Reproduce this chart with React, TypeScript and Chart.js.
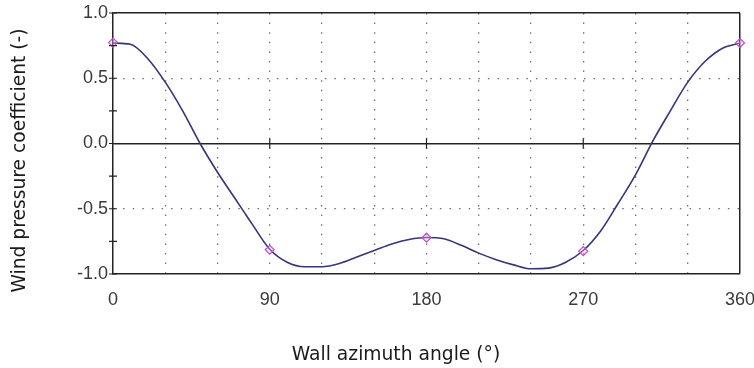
import React, { useEffect, useRef } from "react";
import { Chart, registerables } from "chart.js";

Chart.register(...registerables);

// Wall azimuth angle (°) and wind pressure coefficient
const curveAngles = [0, 10, 20, 30, 40, 50, 60, 70, 75, 80, 90, 100, 110, 120, 130, 140, 150, 160, 170, 180, 190, 200, 210, 220, 230, 240, 250, 260, 270, 280, 290, 300, 310, 320, 330, 340, 350, 360];
const curveValues = [0.77, 0.76, 0.65, 0.47, 0.25, 0.0, -0.22, -0.42, -0.52, -0.62, -0.81, -0.91, -0.945, -0.945, -0.92, -0.87, -0.82, -0.77, -0.735, -0.72, -0.73, -0.78, -0.84, -0.89, -0.93, -0.96, -0.955, -0.91, -0.82, -0.67, -0.46, -0.24, 0.02, 0.25, 0.47, 0.63, 0.73, 0.77];

// Marked input points
const markerAngles = [0, 90, 180, 270, 360];
const markerValues = [0.773, -0.814, -0.722, -0.825, 0.77];

// Axis ticks
const xLabelValues = [0, 90, 180, 270, 360];
const xLabelTexts = ["0", "90", "180", "270", "360"];
const yLabelValues = [-1, -0.5, 0, 0.5, 1];
const yLabelTexts = ["-1.0", "-0.5", "0.0", "0.5", "1.0"];

const xTitle = "Wall azimuth angle (°)";
const yTitle = "Wind pressure coefficient (-)";

const decorPlugin = {
  id: "decor",
  afterDraw(chart: any) {
    const { ctx, chartArea: a, scales } = chart;
    const x = scales.x;
    const y = scales.y;
    ctx.save();
    ctx.strokeStyle = "#222";
    ctx.lineWidth = 1.2;
    ctx.setLineDash([]);
    ctx.beginPath();
    y.ticks.forEach((t: any) => {
      const py = y.getPixelForValue(t.value);
      ctx.moveTo(a.left - 4, py);
      ctx.lineTo(a.left + 4, py);
    });
    const y0 = y.getPixelForValue(0);
    x.ticks.forEach((t: any) => {
      if (t.value % 90 === 0 && t.value > 0 && t.value < 360) {
        const px = x.getPixelForValue(t.value);
        ctx.moveTo(px, y0 - 5);
        ctx.lineTo(px, y0 + 5);
      }
    });
    ctx.stroke();

    ctx.fillStyle = "#1a1a1a";
    ctx.font = "18.7px 'DejaVu Sans'";
    ctx.textAlign = "center";
    ctx.textBaseline = "alphabetic";
    ctx.fillText(xTitle, 396, 360);
    ctx.translate(24.5, 160.5);
    ctx.rotate(-Math.PI / 2);
    ctx.fillText(yTitle, 0, 0);
    ctx.restore();
  },
};

export default function App() {
  const canvasRef = useRef<HTMLCanvasElement | null>(null);

  useEffect(() => {
    document.body.style.margin = "0";
    const canvas = canvasRef.current;
    if (!canvas) return;
    const tickFont = { family: "'Liberation Sans', Arial, sans-serif", size: 18 };
    const chart = new Chart(canvas, {
      type: "line",
      data: {
        datasets: [
          {
            label: "points",
            data: markerAngles.map((a, i) => ({ x: a, y: markerValues[i] })),
            showLine: false,
            pointStyle: "rectRot",
            pointRadius: 4.5,
            pointBorderWidth: 1.2,
            pointBorderColor: "#c050c8",
            pointBackgroundColor: "rgba(235,190,240,0.35)",
            clip: false as any,
            order: 0,
          },
          {
            label: "curve",
            data: curveAngles.map((a, i) => ({ x: a, y: curveValues[i] })),
            borderColor: "#35357a",
            borderWidth: 1.6,
            pointRadius: 0,
            cubicInterpolationMode: "monotone",
            fill: false,
            order: 1,
          },
        ],
      },
      options: {
        animation: false,
        responsive: true,
        maintainAspectRatio: false,
        layout: { padding: { left: 0, top: 13, right: 14, bottom: 0 } },
        plugins: { legend: { display: false }, tooltip: { enabled: false } },
        scales: {
          x: {
            type: "linear",
            min: 0,
            max: 360,
            afterFit: (s: any) => {
              s.height = 94;
              s.paddingLeft = 0;
              s.paddingRight = 0;
            },
            ticks: {
              stepSize: 30,
              autoSkip: false,
              maxRotation: 0,
              padding: 15,
              color: "#3a3a3a",
              font: tickFont,
              callback: (v: any) => {
                const i = xLabelValues.indexOf(Number(v));
                return i >= 0 ? xLabelTexts[i] : "";
              },
            },
            grid: {
              drawTicks: false,
              color: (c: any) => {
                const v = c.tick ? c.tick.value : null;
                if (v === 0) return "rgba(0,0,0,0)";
                if (v === 360) return "#222";
                return "#707070";
              },
              lineWidth: (c: any) => (c.tick && c.tick.value === 360 ? 1.5 : 1.3),
            },
            border: {
              display: true,
              color: "#222",
              width: 1.5,
              dash: (c: any) => (c.tick && c.tick.value !== 360 ? [1.5, 8.1] : []),
            },
          },
          y: {
            type: "linear",
            min: -1,
            max: 1,
            afterFit: (s: any) => {
              s.width = 113;
              s.paddingTop = 0;
              s.paddingBottom = 0;
            },
            ticks: {
              stepSize: 0.25,
              autoSkip: false,
              padding: 5,
              color: "#3a3a3a",
              font: tickFont,
              callback: (v: any) => {
                const i = yLabelValues.indexOf(Number(v));
                return i >= 0 ? yLabelTexts[i] : "";
              },
            },
            grid: {
              drawTicks: false,
              color: (c: any) => {
                const v = c.tick ? c.tick.value : null;
                if (v === 1 || v === 0) return "#222";
                if (v === 0.5 || v === -0.5) return "#707070";
                return "rgba(0,0,0,0)";
              },
              lineWidth: (c: any) => {
                const v = c.tick ? c.tick.value : null;
                if (v === 1 || v === 0) return 1.5;
                return 1.3;
              },
            },
            border: {
              display: true,
              color: "#222",
              width: 1.5,
              dash: (c: any) => {
                const v = c.tick ? c.tick.value : null;
                if (v === 0.5 || v === -0.5) return [1.5, 8.1];
                return [];
              },
            },
          },
        },
      },
      plugins: [decorPlugin],
    });
    return () => chart.destroy();
  }, []);

  return (
    <div style={{ position: "fixed", left: 0, top: 0, width: 754, height: 368, background: "#fff" }}>
      <canvas ref={canvasRef} />
    </div>
  );
}
